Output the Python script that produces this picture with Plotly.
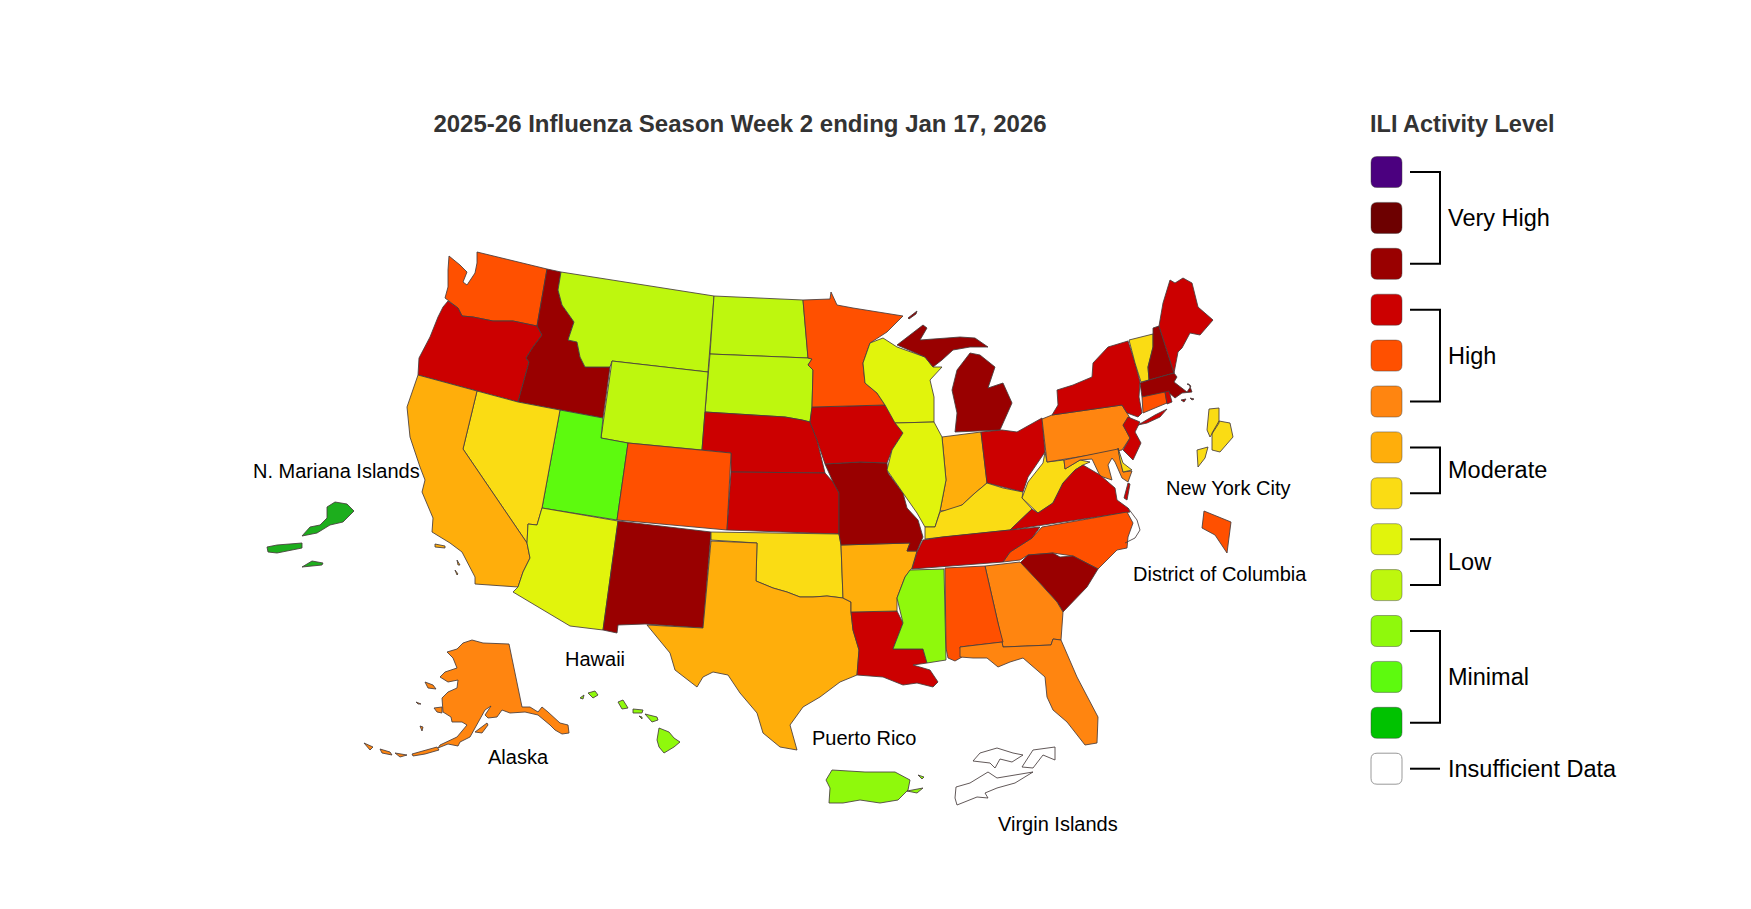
import plotly.graph_objects as go

WA = [(449,256),(460,265),(467,272),(463,282),(467,285),(475,273),(477,263),(477,252),(547,269),(537,326),(513,321),(493,321),(473,317),(462,316),(458,308),(448,301),(445,298),(448,287),(448,270)]
OR = [(448,301),(458,308),(462,316),(473,317),(493,321),(513,321),(537,326),(542,335),(533,347),(526,358),(529,362),(518,402),(418,375),(419,358),(430,337),(438,317),(443,307)]
ID = [(547,269),(561,272),(558,290),(562,305),(574,322),(568,340),(577,342),(580,357),(585,367),(610,367),(603,418),(518,402),(529,362),(526,358),(533,347),(542,335),(537,326)]
MT = [(561,272),(714,296),(708,372),(612,361),(610,367),(585,367),(580,357),(577,342),(568,340),(574,322),(562,305),(558,290)]
ND = [(714,296),(803,300),(808,358),(710,354)]
SD = [(710,354),(808,358),(812,359),(808,365),(813,370),(812,407),(810,422),(802,420),(785,417),(705,412)]
WY = [(612,361),(708,372),(702,450),(628,443),(601,438)]
NE = [(705,412),(785,417),(802,420),(810,422),(817,440),(825,473),(731,472),(731,453),(702,450)]
UT = [(560,410),(603,418),(601,438),(628,443),(617,520),(542,508)]
NV = [(477,391),(518,402),(560,410),(542,508),(537,525),(528,524),(527,543),(463,449)]
CA = [(418,375),(477,391),(463,449),(527,543),(530,558),(523,572),(518,587),(475,584),(475,577),(462,552),(450,543),(432,532),(433,518),(422,492),(425,480),(420,467),(410,437),(407,407)]
CA_ISLES = [[(435,544),(445,546),(445,548),(435,547)],[(457,560),(460,565),(458,565)],[(455,570),(457,575),(458,574)]]
AZ = [(542,508),(618,521),(603,630),(570,626),(513,592),(518,587),(523,572),(530,558),(527,543),(528,524),(537,525)]
CO = [(628,443),(731,453),(727,530),(617,520)]
NM = [(618,521),(711,532),(703,628),(645,624),(618,625),(617,633),(603,630)]
KS = [(731,472),(825,473),(833,482),(839,493),(839,534),(727,530)]
OK = [(711,532),(839,534),(841,545),(843,598),(827,596),(813,597),(800,597),(787,592),(773,588),(756,581),(757,543),(711,540)]
TX = [(711,541),(757,543),(756,581),(773,588),(787,592),(800,597),(813,597),(827,596),(843,598),(851,602),(851,612),(853,630),(859,650),(857,675),(840,682),(820,697),(803,707),(790,725),(797,750),(780,747),(763,733),(757,713),(740,693),(728,675),(713,672),(703,677),(697,687),(675,670),(670,653),(647,625),(703,628)]
LA = [(851,612),(897,611),(903,623),(893,649),(923,649),(927,663),(913,665),(930,670),(938,682),(933,687),(917,683),(903,685),(883,677),(857,675),(859,650),(853,630)]
AR = [(841,545),(910,543),(907,551),(917,551),(912,568),(905,577),(897,598),(897,611),(851,612),(851,602),(843,598)]
MO = [(825,464),(860,462),(887,463),(888,473),(903,493),(907,508),(918,520),(923,537),(917,551),(907,551),(910,543),(841,545),(839,534),(839,493),(833,482)]
IA = [(812,407),(885,405),(897,423),(903,433),(892,450),(887,463),(860,462),(825,464),(817,440),(810,422)]
MN = [(803,300),(830,299),(831,292),(837,305),(853,308),(880,312),(903,316),(887,332),(870,343),(863,363),(865,383),(877,393),(885,405),(812,407),(813,370),(808,365),(812,359),(808,358)]
WI = [(870,343),(883,338),(897,347),(925,357),(933,367),(942,367),(930,380),(934,397),(934,422),(895,423),(885,405),(877,393),(865,383),(863,363)]
MI_UP = [(897,345),(923,325),(927,328),(920,340),(947,338),(960,337),(975,338),(988,347),(970,347),(953,350),(942,360),(933,367),(925,357)]
MI_LP = [(970,353),(980,355),(995,367),(988,388),(1003,383),(1012,403),(1000,430),(955,432),(957,413),(952,390),(957,370)]
MI_ISLE = [(908,318),(917,311),(916,314),(909,319)]
IN = [(942,437),(957,435),(981,432),(987,483),(975,493),(962,505),(952,510),(940,511),(946,480)]
IL = [(895,423),(934,422),(942,437),(946,480),(940,511),(935,527),(925,527),(917,513),(903,493),(887,470),(892,450),(903,433)]
OH = [(981,432),(1002,430),(1017,432),(1042,418),(1045,452),(1028,477),(1023,492),(1003,487),(987,483)]
KY = [(940,512),(962,505),(975,493),(987,483),(1003,488),(1023,492),(1022,498),(1032,509),(1010,530),(942,537),(925,539),(925,527),(935,527)]
WV = [(1045,452),(1047,462),(1064,460),(1065,469),(1080,460),(1090,462),(1083,465),(1075,470),(1063,483),(1053,503),(1038,513),(1022,498),(1028,482),(1043,463)]
PA = [(1042,419),(1052,415),(1122,405),(1130,418),(1123,425),(1130,438),(1122,450),(1047,462)]
NY = [(1052,415),(1058,405),(1057,390),(1073,385),(1092,377),(1093,363),(1108,347),(1128,341),(1135,363),(1140,382),(1139,397),(1142,413),(1138,417),(1127,413),(1122,405)]
NY_LI = [(1138,425),(1155,415),(1167,409),(1160,417),(1147,423)]
NJ = [(1123,425),(1128,417),(1140,422),(1135,432),(1141,443),(1133,460),(1123,450),(1130,438)]
VT = [(1129,340),(1153,334),(1153,347),(1148,367),(1149,380),(1141,382),(1135,363)]
NH = [(1153,328),(1159,326),(1174,373),(1149,380),(1148,367),(1153,347)]
ME = [(1159,326),(1163,303),(1170,280),(1175,283),(1183,278),(1192,283),(1198,307),(1213,320),(1200,335),(1190,333),(1182,348),(1178,352),(1174,373)]
MA = [(1140,383),(1149,380),(1174,373),(1177,377),(1174,382),(1182,388),(1187,392),(1191,386),(1187,384),(1189,384),(1192,392),(1182,393),(1175,398),(1168,392),(1142,397)]
MA_ISLES = [[(1181,400),(1186,399),(1184,402)],[(1190,398),(1194,399),(1192,400)]]
CT = [(1142,397),(1165,392),(1167,403),(1143,413)]
RI = [(1165,392),(1169,391),(1172,402),(1167,404)]
MD = [(1064,460),(1118,449),(1123,472),(1132,471),(1128,482),(1122,478),(1115,462),(1112,458),(1108,465),(1112,480),(1100,476),(1092,459),(1080,460),(1065,469)]
DE = [(1118,448),(1123,463),(1132,470),(1123,472),(1120,460)]
VA = [(1010,530),(1032,509),(1038,513),(1053,503),(1063,483),(1075,470),(1083,465),(1100,475),(1115,488),(1117,500),(1128,508),(1130,512)]
VA_SHORE = [(1128,483),(1124,498),(1127,500),(1130,484)]
NC = [(1042,527),(1127,512),(1133,523),(1128,537),(1127,548),(1117,550),(1098,569),(1073,556),(1053,553),(1028,555),(1020,560),(1003,562),(1010,552),(1032,538)]
OUTER_BANKS = [(1128,508),(1137,520),(1140,530),(1135,538),(1125,543)]
TN = [(923,540),(942,537),(1010,530),(1040,527),(1032,538),(1010,552),(1003,562),(912,569),(917,552)]
SC = [(1020,563),(1028,555),(1053,553),(1060,557),(1073,556),(1098,569),(1087,587),(1077,597),(1063,612),(1057,602),(1037,580)]
GA = [(985,566),(1020,562),(1037,580),(1057,602),(1063,612),(1061,640),(1053,639),(1051,645),(1003,647),(998,623)]
AL = [(945,568),(985,566),(998,623),(1003,642),(960,647),(962,657),(955,661),(948,658),(946,648)]
MS = [(910,570),(944,569),(946,660),(927,663),(923,649),(893,649),(903,623),(897,598),(905,577)]
FL = [(960,647),(1002,642),(1003,647),(1051,645),(1053,639),(1061,640),(1077,677),(1098,717),(1097,743),(1085,745),(1067,722),(1053,710),(1047,697),(1045,677),(1023,658),(1010,662),(998,667),(987,658),(973,658),(960,657)]
AK = [(472,640),(483,643),(509,644),(522,707),(530,707),(538,712),(542,707),(548,712),(560,723),(568,725),(569,733),(562,734),(555,730),(550,725),(538,715),(525,712),(510,713),(502,710),(497,717),(488,718),(485,715),(491,706),(485,710),(478,722),(470,737),(460,742),(458,746),(448,744),(438,748),(440,745),(457,737),(467,725),(462,722),(452,722),(451,717),(443,712),(442,698),(448,692),(457,688),(458,680),(448,682),(440,677),(445,672),(457,668),(453,658),(447,652),(457,649),(463,643)]
AK_ISLES = [[(425,682),(433,685),(436,689),(428,688)],[(434,708),(442,707),(442,713),(437,712)],[(475,732),(487,723),(488,725),(482,733)],[(412,754),(423,751),(437,747),(439,750),(425,754),(413,756)],[(380,749),(390,752),(392,755),(382,753)],[(395,753),(407,755),(400,757)],[(364,743),(368,745),(373,747),(370,750)],[(416,702),(421,704),(418,704)],[(420,726),(423,727),(422,731)]]
HI = [[(659,728),(669,732),(674,738),(680,742),(674,747),(664,753),(659,747),(657,740)],[(645,714),(657,717),(658,720),(652,722)],[(633,709),(643,710),(642,713),(633,713)],[(639,716),(642,717),(642,719)],[(618,702),(623,700),(628,708),(622,709)],[(588,693),(595,691),(598,695),(593,698)],[(580,698),(584,695),(583,699)]]
MP = [[(302,536),(310,527),(320,525),(327,518),(327,507),(335,502),(347,504),(354,511),(348,517),(343,522),(330,525),(317,533)],[(267,547),(277,545),(302,543),(302,548),(277,553),(268,552)],[(302,567),(312,561),(323,563),(322,565)]]
PR = [[(832,770),(865,772),(895,772),(910,780),(908,790),(898,800),(880,803),(860,800),(843,803),(829,803),(830,788),(826,780)],[(907,791),(923,788),(917,793)],[(918,775),(924,777),(922,779)]]
VI = [[(956,787),(970,783),(988,772),(997,778),(1033,772),(1015,783),(997,788),(985,793),(988,798),(977,797),(957,805),(955,798)],[(973,761),(980,753),(997,748),(1013,753),(1023,755),(1012,762),(1000,759),(995,768),(990,763)],[(1022,767),(1033,750),(1055,747),(1055,760),(1043,755),(1033,768)]]
DC = [(1204,511),(1231,522),(1227,553),(1215,535),(1202,528)]
NYC = [[(1209,409),(1219,408),(1219,423),(1210,437),(1207,430)],[(1219,421),(1230,423),(1233,437),(1220,452),(1212,450),(1212,433)],[(1197,450),(1208,447),(1205,458),(1198,467)]]

region_names = ["Washington", "Oregon", "Idaho", "Montana", "North Dakota", "South Dakota", "Wyoming", "Nebraska", "Utah", "Nevada", "California", "Arizona", "Colorado", "New Mexico", "Kansas", "Oklahoma", "Texas", "Louisiana", "Arkansas", "Missouri", "Iowa", "Minnesota", "Wisconsin", "Michigan", "Indiana", "Illinois", "Ohio", "Kentucky", "West Virginia", "Pennsylvania", "New York", "New Jersey", "Vermont", "New Hampshire", "Maine", "Massachusetts", "Connecticut", "Rhode Island", "Maryland", "Delaware", "Virginia", "North Carolina", "Tennessee", "South Carolina", "Georgia", "Alabama", "Mississippi", "Florida", "Alaska", "Hawaii", "N. Mariana Islands", "Puerto Rico", "Virgin Islands", "District of Columbia", "New York City"]
region_levels = [9, 10, 11, 4, 4, 4, 4, 10, 2, 6, 7, 5, 9, 11, 10, 6, 7, 10, 7, 11, 10, 9, 5, 11, 7, 5, 10, 6, 6, 8, 10, 10, 6, 11, 10, 11, 9, 10, 8, 6, 10, 9, 10, 11, 8, 9, 3, 8, 8, 3, 1, 3, 0, 9, 6]
region_shapes = [[WA], [OR], [ID], [MT], [ND], [SD], [WY], [NE], [UT], [NV], [CA] + CA_ISLES, [AZ], [CO], [NM], [KS], [OK], [TX], [LA], [AR], [MO], [IA], [MN], [WI], [MI_UP, MI_LP, MI_ISLE], [IN], [IL], [OH], [KY], [WV], [PA], [NY, NY_LI], [NJ], [VT], [NH], [ME], [MA] + MA_ISLES, [CT], [RI], [MD], [DE], [VA, VA_SHORE], [NC], [TN], [SC], [GA], [AL], [MS], [FL], [AK] + AK_ISLES, HI, MP, PR, VI, [DC], NYC]

# index is the activity level, 0 = insufficient data
level_colors = ["#FFFFFF", "#00C200", "#5DFA0E", "#8FF90C", "#BEF70E", "#E1F40C", "#FADC14", "#FFAE0B", "#FF8510", "#FF5000", "#CC0000", "#990000", "#6D0000", "#4B007F"]
legend_levels = [13, 12, 11, 10, 9, 8, 7, 6, 5, 4, 3, 2, 1, 0]
group_labels = ["Very High", "High", "Moderate", "Low", "Minimal", "Insufficient Data"]
group_sizes = [3, 3, 2, 2, 3, 1]

map_labels = ["N. Mariana Islands", "New York City", "District of Columbia", "Hawaii", "Alaska", "Puerto Rico", "Virgin Islands"]
map_label_x = [336, 1228, 1220, 595, 518, 864, 1058]
map_label_y = [471, 488, 574, 659, 757, 738, 824]

WIDTH = 1751
HEIGHT = 909
PAGE_MARGIN = 8  # the browser's default body margin
FONT = "Liberation Sans"
MARIANA_GREEN = "#1DAE1D"  # a bit duller on the map than its legend swatch


def rounded_box(x0, y0, x1, y1, r=6):
    return (
        f"M{x0 + r},{y0} L{x1 - r},{y0} Q{x1},{y0} {x1},{y0 + r} "
        f"L{x1},{y1 - r} Q{x1},{y1} {x1 - r},{y1} "
        f"L{x0 + r},{y1} Q{x0},{y1} {x0},{y1 - r} "
        f"L{x0},{y0 + r} Q{x0},{y0} {x0 + r},{y0} Z"
    )


fig = go.Figure()

for name, level, polys in zip(region_names, region_levels, region_shapes):
    xs = []
    ys = []
    for poly in polys:
        xs += [p[0] for p in poly] + [poly[0][0], None]
        ys += [p[1] for p in poly] + [poly[0][1], None]
    color = MARIANA_GREEN if name == "N. Mariana Islands" else level_colors[level]
    fig.add_trace(
        go.Scatter(
            x=xs,
            y=ys,
            mode="lines",
            fill="toself",
            fillcolor=color,
            line=dict(color="rgba(70,60,60,0.85)", width=1),
            name=name,
            hoverinfo="name",
            showlegend=False,
        )
    )

fig.add_trace(
    go.Scatter(
        x=[p[0] for p in OUTER_BANKS],
        y=[p[1] for p in OUTER_BANKS],
        mode="lines",
        line=dict(color="rgba(70,60,60,0.85)", width=1),
        hoverinfo="skip",
        showlegend=False,
    )
)

for text, x, y in zip(map_labels, map_label_x, map_label_y):
    fig.add_annotation(x=x, y=y, text=text, showarrow=False, font=dict(family=FONT, size=20, color="#000000"))

# legend down the right side
shapes = []
swatch_y = [172 + 45.9 * i for i in range(len(legend_levels))]
for level, yc in zip(legend_levels, swatch_y):
    border = "#999999" if level == 0 else "rgba(60,60,60,0.45)"
    shapes.append(
        dict(
            type="path",
            path=rounded_box(1371, yc - 15.5, 1402, yc + 15.5),
            fillcolor=level_colors[level],
            line=dict(color=border, width=1),
        )
    )

start = 0
for label, size in zip(group_labels, group_sizes):
    top = swatch_y[start]
    bottom = swatch_y[start + size - 1]
    if size > 1:
        path = f"M1410,{top} L1440,{top} L1440,{bottom} L1410,{bottom}"
    else:
        path = f"M1410,{top} L1440,{top}"
    shapes.append(dict(type="path", path=path, line=dict(color="#000000", width=2)))
    fig.add_annotation(
        x=1446,
        y=(top + bottom) / 2,
        text=label,
        xanchor="left",
        showarrow=False,
        font=dict(family=FONT, size=23.5, color="#000000"),
    )
    start += size

fig.add_annotation(
    x=1368,
    y=124,
    text="<b>ILI Activity Level</b>",
    xanchor="left",
    showarrow=False,
    font=dict(family=FONT, size=23.5, color="#333333"),
)

plot_w = WIDTH - 2 * PAGE_MARGIN
plot_h = HEIGHT - 2 * PAGE_MARGIN

fig.update_layout(
    width=plot_w,
    height=plot_h,
    margin=dict(l=0, r=0, t=0, b=0),
    paper_bgcolor="white",
    plot_bgcolor="white",
    shapes=shapes,
    title=dict(
        text="<b>2025-26 Influenza Season Week 2 ending Jan 17, 2026</b>",
        x=(740 - PAGE_MARGIN) / plot_w,
        y=1 - (124 - PAGE_MARGIN) / plot_h,
        xanchor="center",
        yanchor="middle",
        font=dict(family=FONT, size=24, color="#333333"),
    ),
    xaxis=dict(range=[PAGE_MARGIN, WIDTH - PAGE_MARGIN], visible=False, fixedrange=True),
    yaxis=dict(range=[HEIGHT - PAGE_MARGIN, PAGE_MARGIN], visible=False, fixedrange=True),
)

fig.write_html("out.html")
